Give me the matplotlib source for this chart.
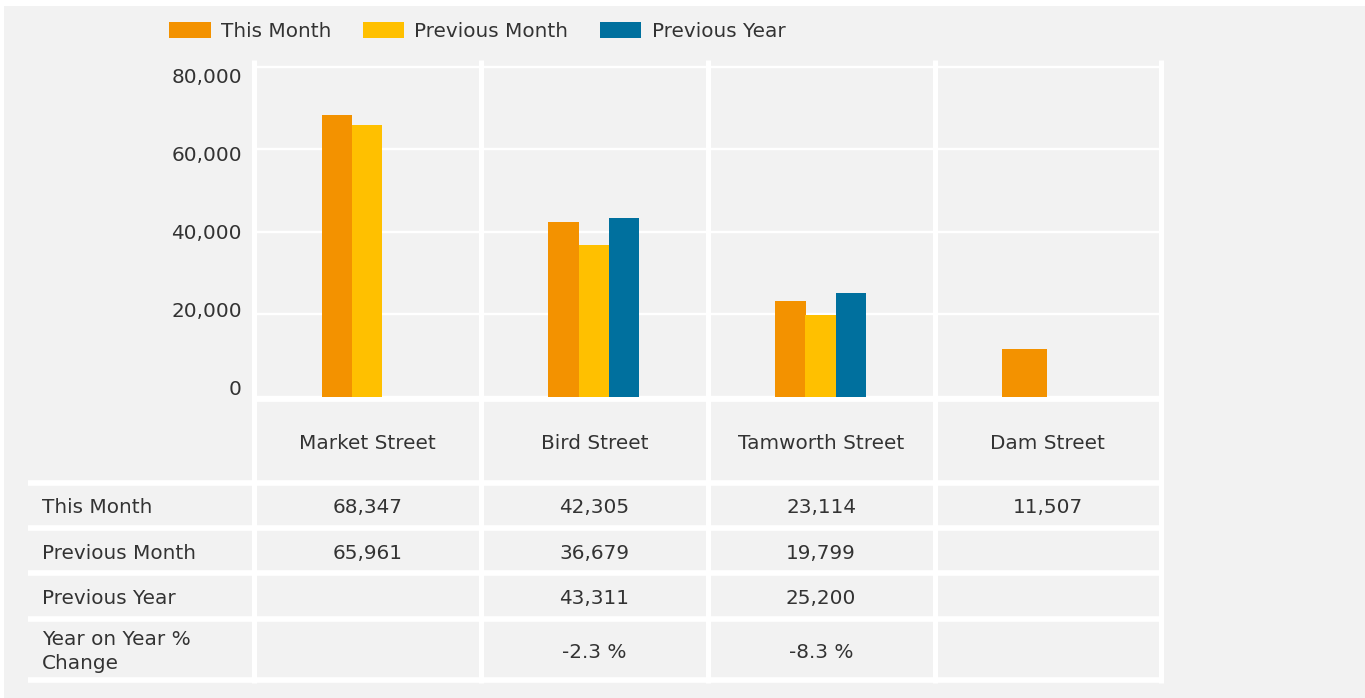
import matplotlib
matplotlib.use("Agg")
import matplotlib.pyplot as plt
from matplotlib.patches import Rectangle
from matplotlib.transforms import blended_transform_factory
import numpy as np

# ---------------- data ----------------
categories = ["Market Street", "Bird Street", "Tamworth Street", "Dam Street"]
series_names = ["This Month", "Previous Month", "Previous Year"]
this_month = [68347, 42305, 23114, 11507]
previous_month = [65961, 36679, 19799, None]
previous_year = [None, 43311, 25200, None]
yoy_change = [None, -2.3, -8.3, None]
y_ticks = [0, 20000, 40000, 60000, 80000]
row_labels = ["This Month", "Previous Month", "Previous Year", "Year on Year %\nChange"]

colors = ["#F39200", "#FFC000", "#00709E"]
BG = "#F2F2F2"
TXT = "#333333"
FS = 14.4

W, H = 1365, 698
fig = plt.figure(figsize=(W / 100, H / 100), dpi=100, facecolor="white")

# background / layout axes in pixel coordinates
bg = fig.add_axes([0, 0, 1, 1], zorder=0)
bg.set_xlim(0, W)
bg.set_ylim(H, 0)
bg.axis("off")
bg.add_patch(Rectangle((4, 6), W - 4, H - 6, color=BG, lw=0))

# chart axes
x_left, x_right = 254.1, 1161.3
y_zero, y_top_line, y_axes_top = 396.5, 67.0, 60.0
units_per_px = 80000 / (y_zero - y_top_line)
ax = fig.add_axes([x_left / W, (H - y_zero) / H, (x_right - x_left) / W, (y_zero - y_axes_top) / H], zorder=1)
ax.set_facecolor("none")
ax.set_xlim(-0.5, len(categories) - 0.5)
ax.set_ylim(0, (y_zero - y_axes_top) * units_per_px)
for s in ax.spines.values():
    s.set_visible(False)
ax.set_yticks(y_ticks)
ax.set_xticks([])
ax.tick_params(axis="y", length=0, labelleft=False)
ax.grid(axis="y", color="white", lw=1.7)
ax.set_axisbelow(True)

# bars
px_per_cat = (x_right - x_left) / len(categories)
bw = 30.3 / px_per_cat
offsets = [-30.7 / px_per_cat, -0.5 / px_per_cat, 29.9 / px_per_cat]
all_series = [this_month, previous_month, previous_year]
x = np.arange(len(categories))
for si, (vals, col) in enumerate(zip(all_series, colors)):
    for ci, v in enumerate(vals):
        if v is None:
            continue
        n_present = sum(s[ci] is not None for s in all_series)
        if n_present == 1:
            ax.bar(x[ci] - 23.2 / px_per_cat, v, width=45 / px_per_cat, color=col, lw=0, zorder=3)
        else:
            ax.bar(x[ci] + offsets[si], v, width=bw, color=col, lw=0, zorder=3)

# y tick labels (evenly spaced, slightly inset from gridlines as in reference)
tr_lab = blended_transform_factory(bg.transData, bg.transData)
for v in y_ticks:
    yc = 388 - (v / 80000) * 312
    bg.text(242, yc + 7.3, f"{v:,}", ha="right", va="baseline", fontsize=FS, color=TXT)

# white separators and table lines
tr_cat = blended_transform_factory(ax.transData, bg.transData)
for b in np.arange(-0.5, len(categories), 1.0):
    bg.plot([b, b], [60, 682.7], transform=tr_cat, color="white", lw=5 * 0.72,
            solid_capstyle="butt", zorder=2)
bg.plot([251.7, 1164], [399.2, 399.2], color="white", lw=5.8 * 0.72, solid_capstyle="butt", zorder=2)
for yl in [482.7, 528.0, 573.3, 619.0, 679.7]:
    bg.plot([28, 1164], [yl, yl], color="white", lw=5.6 * 0.72, solid_capstyle="butt", zorder=2)

# header row
for ci, c in enumerate(categories):
    bg.text(ci, 449.3, c, transform=tr_cat, ha="center", va="baseline", fontsize=FS, color=TXT)

# table rows
row_base = [513.3, 559.0, 604.3, 657.5]
label_base = [[513.3], [559.0], [604.3], [645.0, 669.0]]
for ri, lab in enumerate(row_labels):
    for li, part in enumerate(lab.split("\n")):
        bg.text(42, label_base[ri][li], part, ha="left", va="baseline", fontsize=FS, color=TXT)

def fmt_num(v):
    return "" if v is None else f"{v:,}"

def fmt_pct(v):
    return "" if v is None else f"{v:.1f} %"

table_rows = [
    [fmt_num(v) for v in this_month],
    [fmt_num(v) for v in previous_month],
    [fmt_num(v) for v in previous_year],
    [fmt_pct(v) for v in yoy_change],
]
for ri, row in enumerate(table_rows):
    for ci, t in enumerate(row):
        if t:
            bg.text(ci, row_base[ri], t, transform=tr_cat, ha="center", va="baseline",
                    fontsize=FS, color=TXT)

# legend
leg_x = [169.3, 363.0, 600.0]
for name, col, lx in zip(series_names, colors, leg_x):
    bg.add_patch(Rectangle((lx, 21.7), 41.3, 16.6, color=col, lw=0, zorder=3))
    bg.text(lx + 51.5, 36.7, name, ha="left", va="baseline", fontsize=FS, color=TXT, zorder=3)

fig.savefig("out.png", dpi=100, facecolor="white")
